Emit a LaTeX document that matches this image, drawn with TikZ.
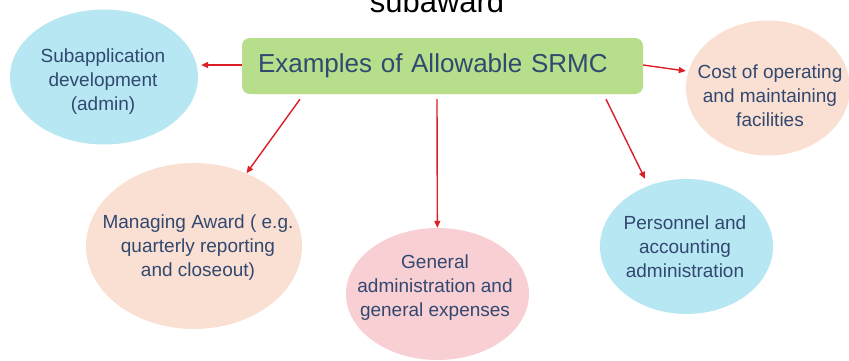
\documentclass[tikz,border=0pt]{standalone}
\usepackage{fontspec}
\setmainfont{Liberation Sans}
\usetikzlibrary{shapes.geometric,arrows.meta}
\definecolor{srmcgreen}{RGB}{183,222,138}
\definecolor{srmcblue}{RGB}{182,231,242}
\definecolor{srmcpeach}{RGB}{250,224,210}
\definecolor{srmcpink}{RGB}{248,207,211}
\definecolor{srmctext}{RGB}{50,72,112}
\definecolor{srmcred}{RGB}{220,30,38}

\begin{document}
\begin{tikzpicture}[x=1pt,y=-1pt,
  bubble/.style={ellipse,inner sep=0pt},
  bubbletext/.style={text=srmctext,align=center,font=\fontsize{19}{24}\selectfont},
  link/.style={draw=srmcred,line width=1.4pt,-{Triangle[length=7pt,width=6pt]}}]
\useasboundingbox (0,0) rectangle (849,360);
\node [anchor=base,font=\fontsize{31}{36}\selectfont] (title) at (437,12) {subaward};
\node [fill=srmcgreen,rounded corners=8pt,minimum height=56pt,text width=369pt,inner xsep=16pt,inner ysep=0pt,
  text=srmctext,font=\fontsize{26}{30}\selectfont] (box) at (442.5,66) {Examples of Allowable SRMC};

\node [bubble,fill=srmcblue,minimum width=188pt,minimum height=135pt] (sub) at (104,77) {};
\node [bubbletext] (subtext) at (103,82) {Subapplication\\development\\(admin)};

\node [bubble,fill=srmcpeach,minimum width=164pt,minimum height=135pt] (cost) at (768,88) {};
\node [bubbletext] (costtext) at (770,96) {Cost of operating\\and maintaining\\facilities};

\node [bubble,fill=srmcpeach,minimum width=216pt,minimum height=166pt] (mgmt) at (194,246) {};
\node [bubbletext] (mgmttext) at (198,248) {Managing Award ( e.g.\\quarterly reporting\\and closeout)};

\node [bubble,fill=srmcpink,minimum width=183pt,minimum height=132pt] (gen) at (437.5,294) {};
\node [bubbletext] (gentext) at (435,288) {General\\administration and\\general expenses};

\node [bubble,fill=srmcblue,minimum width=173pt,minimum height=135pt] (pers) at (686.5,246.5) {};
\node [bubbletext] (perstext) at (685,247) {Personnel and\\accounting\\administration};

\draw [link,shorten >=3pt] ([yshift=1pt]box.west) -- ([yshift=1pt]sub.east |- box.west);
\draw [link] ([yshift=1pt]box.east) -- ([yshift=17pt]cost.west);
\draw [link] ([xshift=-142.5pt,yshift=-5pt]box.south) -- (mgmt);
\draw [link] ([xshift=-5.5pt,yshift=-5pt]box.south) -- (gen);
\draw [link] ([xshift=163.5pt,yshift=-5pt]box.south) -- ([xshift=-41.5pt]pers.north);
\end{tikzpicture}
\end{document}
